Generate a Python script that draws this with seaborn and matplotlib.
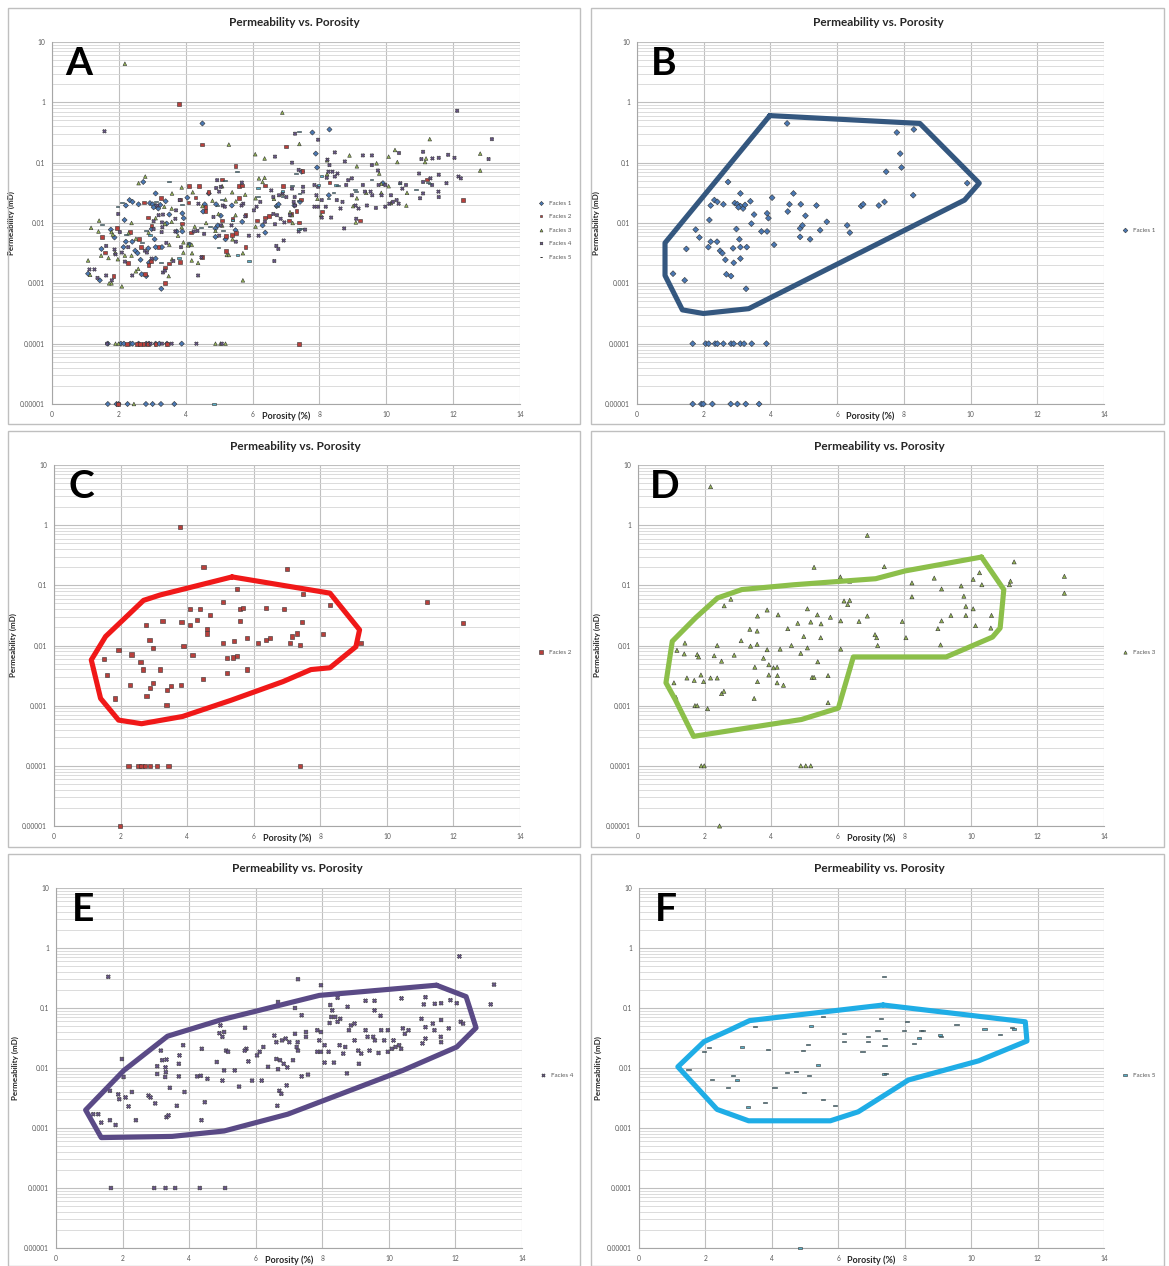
import numpy as np
import pandas as pd
import matplotlib
matplotlib.use("Agg")
import matplotlib.pyplot as plt
import seaborn as sns
from matplotlib.patches import Rectangle
from matplotlib.ticker import LogLocator, NullFormatter

# ---------------- data (porosity %, log10 permeability mD) ----------------
f1_por = [1.67, 1.93, 1.99, 2.26, 2.81, 3.01, 3.26, 3.66,
          1.67, 2.06, 2.15, 2.34, 2.41, 2.59, 2.82, 2.90, 3.10, 3.21, 3.44, 3.88,
          4.50, 7.79, 8.30, 7.89, 7.93, 7.47, 9.90, 8.28, 2.73, 3.10, 2.32, 2.41,
          2.59, 2.21, 2.93, 3.01, 3.10, 3.18, 3.04, 3.24, 3.40, 4.05, 4.69, 4.57,
          4.91, 5.38, 4.52, 5.05, 3.90, 3.94, 3.51, 2.17, 3.43, 5.69, 6.30, 6.38,
          4.89, 4.96, 5.49, 4.89, 5.19, 6.72, 6.78, 7.25, 7.42, 1.76, 1.87, 2.98,
          3.73, 3.90, 2.21, 2.40, 2.14, 2.49, 2.56, 3.07, 2.88, 3.10, 3.29, 4.11,
          1.48, 2.65, 3.10, 2.90, 2.68, 2.82, 1.08, 1.43, 3.27]
f1_logk = [-5, -5, -5, -5, -5, -5, -5, -5,
           -4, -4, -4, -4, -4, -4, -4, -4, -4, -4, -4, -4,
           -0.35, -0.50, -0.45, -0.85, -1.08, -1.15, -1.34, -1.54, -1.32, -1.51, -1.62, -1.65,
           -1.69, -1.71, -1.67, -1.69, -1.72, -1.76, -1.74, -1.70, -1.64, -1.58, -1.51, -1.69,
           -1.69, -1.71, -1.81, -1.88, -1.84, -1.92, -1.86, -1.95, -2.01, -1.98, -2.04, -2.16,
           -2.09, -2.04, -2.12, -2.23, -2.27, -1.72, -1.69, -1.71, -1.65, -2.11, -2.24, -2.10,
           -2.14, -2.14, -2.31, -2.31, -2.40, -2.46, -2.50, -2.27, -2.42, -2.40, -2.40, -2.36,
           -2.43, -2.61, -2.59, -2.66, -2.85, -2.88, -2.84, -2.95, -3.09]

f2_por = [3.79, 4.49, 6.99, 5.49, 7.49, 8.30, 11.21, 12.30, 5.08, 4.09, 4.39, 4.68,
          4.29, 5.60, 5.69, 6.38, 6.92, 3.26, 3.83, 4.08, 2.76, 4.59, 4.59, 5.60,
          7.45, 8.07, 7.31, 7.14, 5.79, 6.38, 6.49, 5.40, 5.08, 6.13, 7.09, 7.39,
          9.21, 2.87, 2.98, 3.89, 1.94, 2.33, 4.16, 1.49, 2.60, 2.67, 5.20, 5.38,
          5.51, 3.19, 5.20, 5.79, 1.59, 4.48, 2.28, 2.97, 2.89, 3.51, 3.39, 3.82,
          2.78, 1.84, 3.38,
          2.24, 2.54, 2.63, 2.74, 2.88, 3.10, 3.44, 7.39, 1.98]
f2_logk = [-0.03, -0.70, -0.73, -1.06, -1.14, -1.33, -1.28, -1.62, -1.28, -1.39, -1.39, -1.49,
           -1.58, -1.39, -1.38, -1.38, -1.39, -1.59, -1.61, -1.66, -1.66, -1.73, -1.80, -1.59,
           -1.61, -1.81, -1.80, -1.85, -1.87, -1.91, -1.88, -1.93, -1.96, -1.96, -1.96, -1.99,
           -1.96, -1.91, -2.04, -2.01, -2.08, -2.15, -2.16, -2.23, -2.27, -2.40, -2.21, -2.20,
           -2.17, -2.40, -2.46, -2.40, -2.49, -2.56, -2.66, -2.63, -2.70, -2.67, -2.74, -2.65,
           -2.84, -2.88, -2.99,
           -4, -4, -4, -4, -4, -4, -4, -4, -5]

f3_por = [2.18, 6.89, 5.29, 7.40, 11.30, 12.81, 12.81, 6.08, 6.36, 8.23, 8.23, 8.90,
          9.12, 9.71, 10.07, 10.26, 10.33, 11.19, 11.16, 9.79, 6.19, 6.30, 6.36, 2.79,
          2.59, 3.88, 5.09, 9.85, 10.07, 3.59, 4.21, 5.39, 5.50, 5.78, 4.80, 5.19,
          6.09, 6.64, 6.89, 7.94, 9.40, 9.12, 9.85, 10.62, 10.14, 10.60, 9.01, 4.50,
          3.36, 3.58, 4.98, 5.49, 7.12, 7.17, 8.05, 3.10, 2.38, 3.38, 3.58, 4.61,
          7.20, 9.09, 5.09, 1.41, 1.17, 1.39, 1.78, 1.82, 2.29, 2.89, 3.88, 4.27,
          4.89, 6.09, 2.51, 3.77, 5.40, 3.51, 3.93, 4.07, 4.18, 3.93, 4.19, 5.23,
          5.29, 5.71, 1.47, 1.69, 1.89, 1.97, 2.18, 2.38, 1.08, 3.59, 4.18, 4.37,
          2.51, 2.58, 3.49, 1.71, 1.78, 2.09, 5.71, 1.14,
          1.90, 1.99, 4.89, 5.04, 5.19, 2.45]
f3_logk = [0.64, -0.17, -0.70, -0.69, -0.61, -0.85, -1.13, -0.86, -0.93, -0.96, -1.19, -0.88,
           -1.06, -1.01, -0.90, -0.79, -0.99, -0.93, -0.99, -1.18, -1.26, -1.32, -1.25, -1.23,
           -1.34, -1.41, -1.39, -1.35, -1.39, -1.51, -1.49, -1.49, -1.64, -1.53, -1.63, -1.61,
           -1.59, -1.60, -1.51, -1.60, -1.50, -1.59, -1.50, -1.50, -1.67, -1.71, -1.72, -1.72,
           -1.73, -1.76, -1.85, -1.87, -1.82, -1.87, -1.87, -1.92, -2.00, -2.01, -1.98, -2.00,
           -2.00, -1.99, -2.04, -1.96, -2.08, -2.14, -2.15, -2.19, -2.17, -2.16, -2.07, -2.06,
           -2.13, -2.06, -2.26, -2.21, -2.27, -2.36, -2.32, -2.37, -2.36, -2.49, -2.50, -2.53,
           -2.53, -2.50, -2.54, -2.58, -2.49, -2.60, -2.54, -2.54, -2.62, -2.60, -2.62, -2.66,
           -2.80, -2.76, -2.88, -3.00, -3.00, -3.05, -2.95, -2.86,
           -4, -4, -4, -4, -4, -5]

f4_por = [1.57, 12.12, 7.27, 7.96, 13.16, 13.06, 6.67, 7.18, 7.38, 8.24, 8.30, 8.27,
          8.46, 8.76, 9.30, 9.57, 9.57, 10.38, 11.10, 11.38, 11.57, 11.85, 12.04, 11.05,
          8.22, 8.39, 8.54, 8.46, 8.86, 8.80, 8.97, 9.30, 9.75, 9.77, 9.97, 9.53,
          10.42, 10.59, 10.98, 11.32, 11.10, 11.37, 11.57, 11.80, 12.16, 12.23, 11.01, 11.10,
          11.56, 11.57, 7.85, 7.96, 7.91, 7.85, 7.96, 8.07, 8.19, 8.07, 8.35, 8.52,
          8.69, 8.63, 8.97, 9.08, 8.74, 9.10, 9.36, 9.42, 9.17, 9.58, 9.86, 9.69,
          9.97, 10.09, 10.20, 10.31, 10.37, 10.14, 10.48, 6.56, 6.62, 6.79, 6.90, 7.01,
          7.18, 7.26, 7.27, 7.23, 7.51, 7.51, 6.62, 6.73, 6.84, 6.95, 7.12, 6.23,
          6.12, 6.04, 6.37, 6.67, 6.18, 5.89, 5.72, 5.67, 5.78, 5.68, 5.05, 5.00,
          5.11, 5.17, 4.94, 4.91, 4.83, 5.05, 5.00, 5.37, 5.50, 7.38, 7.57, 6.93,
          6.71, 6.77, 6.65, 4.38, 4.24, 4.35, 4.55, 4.47, 4.37, 3.82, 3.71, 3.69,
          3.69, 3.86, 3.63, 3.42, 3.15, 3.19, 3.32, 3.29, 3.30, 3.28, 3.04, 3.04,
          2.98, 3.32, 3.38, 2.78, 2.84, 2.28, 2.18, 2.40, 2.09, 1.87, 1.90, 1.98,
          2.03, 1.62, 1.27, 1.36, 1.62, 1.79, 1.12,
          1.65, 2.95, 3.29, 3.58, 4.32, 5.08]
f4_logk = [-0.48, -0.14, -0.52, -0.62, -0.61, -0.94, -0.90, -1.00, -1.12, -0.95, -1.04, -1.15,
           -0.83, -0.98, -0.88, -0.88, -1.04, -0.84, -0.82, -0.93, -0.92, -0.87, -0.92, -0.94,
           -1.25, -1.15, -1.18, -1.23, -1.29, -1.37, -1.26, -1.37, -1.13, -1.37, -1.37, -1.48,
           -1.34, -1.37, -1.18, -1.26, -1.32, -1.37, -1.20, -1.34, -1.23, -1.26, -1.59, -1.51,
           -1.48, -1.57, -1.37, -1.40, -1.54, -1.73, -1.73, -1.62, -1.73, -1.91, -1.91, -1.62,
           -1.65, -1.76, -1.54, -1.71, -2.09, -1.93, -1.48, -1.71, -1.76, -1.54, -1.54, -1.75,
           -1.73, -1.68, -1.65, -1.62, -1.68, -1.54, -1.43, -1.46, -1.57, -1.54, -1.51, -1.57,
           -1.43, -1.57, -1.71, -1.65, -1.40, -1.48, -1.85, -1.87, -1.93, -1.99, -1.87, -1.65,
           -1.73, -1.79, -1.98, -2.02, -2.21, -2.21, -1.68, -1.71, -1.89, -1.33, -1.40, -1.48,
           -1.71, -1.73, -1.29, -1.42, -1.90, -2.04, -2.21, -2.04, -2.31, -2.14, -2.11, -2.29,
           -2.38, -2.43, -2.63, -1.68, -2.14, -2.13, -2.18, -2.57, -2.87, -1.62, -1.79, -1.93,
           -2.14, -2.40, -2.63, -2.33, -1.71, -1.87, -1.86, -1.99, -2.07, -2.15, -1.97, -2.10,
           -2.59, -2.82, -2.79, -2.46, -2.49, -2.40, -2.64, -2.87, -2.49, -2.44, -2.52, -1.85,
           -2.15, -2.38, -2.77, -2.91, -2.87, -2.95, -2.77,
           -4, -4, -4, -4, -4, -4]

f5_por = [7.38, 5.53, 7.29, 8.06, 5.18, 3.50, 9.56, 10.40, 11.24, 11.29, 10.88, 7.97,
          8.50, 8.55, 9.06, 9.09, 8.42, 8.27, 7.18, 6.90, 6.90, 7.40, 6.17, 6.17,
          7.39, 6.73, 5.09, 4.95, 3.88, 3.11, 2.10, 1.96, 5.40, 1.49, 4.45, 4.72,
          5.11, 2.82, 2.94, 2.21, 7.38, 7.44, 2.69, 4.08, 4.98, 5.55, 5.89, 3.79,
          3.27, 4.84]
f5_logk = [-0.48, -1.14, -1.18, -1.22, -1.30, -1.31, -1.28, -1.35, -1.33, -1.35, -1.44, -1.37,
           -1.37, -1.38, -1.45, -1.48, -1.50, -1.59, -1.38, -1.47, -1.56, -1.51, -1.42, -1.56,
           -1.63, -1.72, -1.61, -1.71, -1.69, -1.65, -1.66, -1.72, -1.95, -2.02, -2.08, -2.06,
           -2.13, -2.12, -2.20, -2.19, -2.10, -2.09, -2.33, -2.33, -2.41, -2.53, -2.63, -2.58,
           -2.65, -5]

# hand-drawn envelopes (porosity %, log10 permeability)
env1_por = [3.98, 8.48, 10.26, 9.82, 3.35, 1.99, 1.36, 0.84, 0.84]
env1_logk = [-0.22, -0.35, -1.34, -1.62, -3.42, -3.50, -3.44, -2.87, -2.33]
env2_por = [5.35, 8.29, 9.18, 9.07, 8.29, 7.72, 6.88, 5.32, 3.86, 2.63, 1.94, 1.40, 1.12, 1.55, 2.69, 3.19]
env2_logk = [-0.86, -1.13, -1.74, -2.02, -2.37, -2.40, -2.60, -2.91, -3.18, -3.30, -3.24, -2.88, -2.24, -1.85, -1.25, -1.16]
env3_por = [10.32, 10.99, 10.88, 10.65, 9.26, 6.47, 6.02, 4.91, 1.67, 1.12, 0.84, 1.03, 1.73, 2.39, 3.12, 4.69, 7.14, 8.03]
env3_logk = [-0.53, -1.07, -1.71, -1.86, -2.19, -2.19, -3.04, -3.23, -3.51, -2.90, -2.62, -1.93, -1.54, -1.21, -1.07, -0.99, -0.89, -0.76]
env4_por = [11.43, 12.32, 12.62, 12.04, 10.42, 6.96, 5.05, 3.49, 1.36, 0.89, 2.04, 3.35, 4.94, 7.91]
env4_logk = [-0.62, -0.81, -1.33, -1.65, -2.04, -2.77, -3.05, -3.14, -3.16, -2.70, -2.04, -1.47, -1.20, -0.79]
env5_por = [7.35, 11.63, 11.68, 10.23, 8.11, 7.83, 6.60, 5.76, 3.30, 2.35, 1.17, 1.96, 2.68, 3.33]
env5_logk = [-0.95, -1.23, -1.55, -1.88, -2.20, -2.30, -2.73, -2.88, -2.88, -2.69, -1.98, -1.56, -1.38, -1.21]

facies_names = ["Facies 1", "Facies 2", "Facies 3", "Facies 4", "Facies 5"]
facies_colors = ["#4A78B4", "#B8403C", "#93B454", "#6E5696", "#56AFC8"]
envelope_colors = ["#34577F", "#F01818", "#8CBF4A", "#5A4A86", "#1FADE6"]
y_ticks = [1e-5, 1e-4, 1e-3, 1e-2, 1e-1, 1, 10]
y_tick_labels = ["0.00001", "0.0001", "0.001", "0.01", "0.1", "1", "10"]
x_ticks = [0, 2, 4, 6, 8, 10, 12, 14]

por_lists = [f1_por, f2_por, f3_por, f4_por, f5_por]
logk_lists = [f1_logk, f2_logk, f3_logk, f4_logk, f5_logk]
env_lists = [(env1_por, env1_logk), (env2_por, env2_logk), (env3_por, env3_logk),
             (env4_por, env4_logk), (env5_por, env5_logk)]

frames = []
for name, p, k in zip(facies_names, por_lists, logk_lists):
    frames.append(pd.DataFrame({"Porosity": p, "Permeability": 10.0 ** np.array(k), "Facies": name}))
df_all = pd.concat(frames, ignore_index=True)

dash = [(-1, -0.32), (1, -0.32), (1, 0.32), (-1, 0.32), (-1, -0.32)]
marker_map = {"Facies 1": "D", "Facies 2": "s", "Facies 3": "^", "Facies 4": "X", "Facies 5": dash}
palette = dict(zip(facies_names, facies_colors))

# ---------------- figure ----------------
sns.set_theme(style="white")
plt.rcParams["font.family"] = ["Lato", "DejaVu Sans"]

W, H = 1169, 1266
fig = plt.figure(figsize=(W / 100, H / 100), dpi=100)
fig.patch.set_facecolor("white")

# panel: letter, plot x0, x1, y top, y bottom, box (x0, y0, x1, y1), facies index (None = all)
panels = [
    ("A", 52, 520, 42, 404, (8, 8, 580, 424), None),
    ("B", 637, 1104, 42, 404, (591, 8, 1164, 424), 0),
    ("C", 54, 520, 465, 826, (8, 431, 580, 847), 1),
    ("D", 638, 1104, 465, 826, (591, 431, 1164, 847), 2),
    ("E", 56, 522, 888, 1248, (8, 854, 580, 1266), 3),
    ("F", 639, 1104, 888, 1248, (591, 854, 1164, 1266), 4),
]

for letter, x0, x1, yt, yb, box, fi in panels:
    bx0, by0, bx1, by1 = box
    fig.add_artist(Rectangle((bx0 / W, 1 - by1 / H), (bx1 - bx0) / W, (by1 - by0) / H,
                             transform=fig.transFigure, fill=False, ec="#BFBFBF", lw=1.0))
    ax = fig.add_axes([x0 / W, 1 - yb / H, (x1 - x0) / W, (yb - yt) / H])
    ax.set_yscale("log")
    ax.set_xlim(0, 14)
    ax.set_ylim(1e-5, 10)
    ax.set_axisbelow(True)

    if fi is None:
        data = df_all
        size = 7
    else:
        data = df_all[df_all["Facies"] == facies_names[fi]]
        size = 9
    sns.scatterplot(data=data, x="Porosity", y="Permeability", hue="Facies", style="Facies",
                    palette={k: v for k, v in palette.items() if k in set(data["Facies"])},
                    markers={k: v for k, v in marker_map.items() if k in set(data["Facies"])},
                    s=size, linewidth=0.4, edgecolor="#333333", clip_on=False, zorder=3, ax=ax)

    if fi is not None:
        ep, ek = env_lists[fi]
        ax.plot(list(ep) + [ep[0]], 10.0 ** np.array(list(ek) + [ek[0]]),
                color=envelope_colors[fi], lw=3.7, solid_joinstyle="round",
                solid_capstyle="round", zorder=4)

    ax.set_xticks(x_ticks)
    ax.set_xticklabels([str(v) for v in x_ticks])
    ax.set_yticks(y_ticks)
    ax.set_yticklabels(y_tick_labels)
    ax.yaxis.set_minor_locator(LogLocator(base=10, subs=np.arange(2, 10), numticks=30))
    ax.yaxis.set_minor_formatter(NullFormatter())
    ax.tick_params(axis="both", which="major", labelsize=4.8, labelcolor="#595959",
                   length=2, color="#A6A6A6", pad=3)
    ax.tick_params(axis="y", which="minor", length=0)
    ax.grid(which="major", axis="both", color="#BFBFBF", lw=0.8)
    ax.grid(which="minor", axis="y", color="#D6D6D6", lw=0.6)
    for s in ["top", "right"]:
        ax.spines[s].set_visible(False)
    for s in ["left", "bottom"]:
        ax.spines[s].set_color("#A6A6A6")
        ax.spines[s].set_linewidth(0.8)

    ax.set_xlabel("")
    ax.set_ylabel("Permeability (mD)", fontsize=5.8, fontweight="bold", color="#262626")
    ax.yaxis.set_label_coords(-37 / (x1 - x0), 0.5)
    ax.text(7.0, -12 / (yb - yt), "Porosity (%)", transform=ax.get_xaxis_transform(),
            ha="center", va="center", fontsize=6.5, fontweight="bold", color="#262626")
    ax.text(0.517, 1 + 19 / (yb - yt), "Permeability vs. Porosity", transform=ax.transAxes,
            ha="center", va="center", fontsize=8.5, fontweight="bold", color="#262626")
    ax.text(0.058, 0.94, letter, transform=ax.transAxes, ha="center", va="center",
            fontsize=28, fontweight="bold", color="black", zorder=6)

    sns.move_legend(ax, "center left", bbox_to_anchor=(1.02, 0.48), frameon=False, title=None,
                    fontsize=4.5, labelspacing=1.3, handletextpad=0.2, markerscale=0.8,
                    labelcolor="#595959")

fig.savefig("out.png", dpi=100, facecolor="white")
